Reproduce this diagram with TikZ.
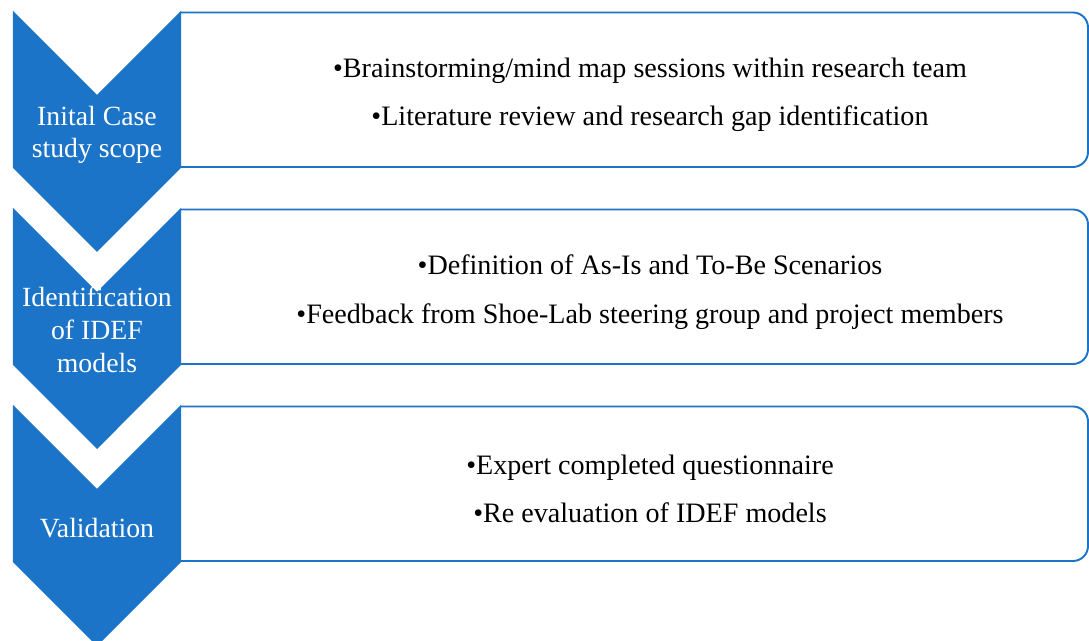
\documentclass[tikz,border=0pt]{standalone}
\usepackage{fontspec}
\setmainfont{Liberation Serif}
\usetikzlibrary{positioning}
\definecolor{stageblue}{RGB}{27,116,199}
\tikzstyle{stage} = [fill=stageblue, draw=none]
\tikzstyle{stagelabel} = [text=white, align=center, font=\fontsize{15.8}{18.6}\selectfont]
\tikzstyle{taskbox} = [draw=stageblue, line width=1.1pt, rounded corners=0.3cm]
\tikzstyle{tasks} = [align=center, font=\fontsize{16}{27.5}\selectfont]

\begin{document}
\begin{tikzpicture}
    \useasboundingbox (0,0) rectangle (21.78,-12.82);
    \clip (0,0) rectangle (21.78,-12.82);

    % one chevron and one task box per stage
    \foreach \t in {-0.22,-4.16,-8.10} {
        \draw[taskbox] (3.62,\t-0.03) -- (21.76,\t-0.03) -- (21.76,\t-3.12) -- (3.62,\t-3.12);
        \fill[stage] (0.26,\t) -- (1.94,\t-1.68) -- (3.62,\t) -- (3.62,\t-3.14)
            -- (1.94,\t-4.82) -- (0.26,\t-3.14) -- cycle;
    }

    \node(scope)[stagelabel] at (1.94,-2.70) {Inital Case\\study scope};
    \node(idef)[stagelabel] at (1.94,-6.60) {Identification\\of IDEF\\models};
    \node(valid)[stagelabel] at (1.94,-10.56) {Validation};

    \node(scopetasks)[tasks] at (13.0,-1.90) {\textbullet Brainstorming/mind map sessions within research team\\\textbullet Literature review and research gap identification};
    \node(ideftasks)[tasks] at (13.0,-5.84) {\textbullet Definition of As-Is and To-Be Scenarios\\\textbullet Feedback from Shoe-Lab steering group and project members};
    \node(validtasks)[tasks] at (13.0,-9.78) {\textbullet Expert completed questionnaire\\\textbullet Re evaluation of IDEF models};

\end{tikzpicture}
\end{document}
